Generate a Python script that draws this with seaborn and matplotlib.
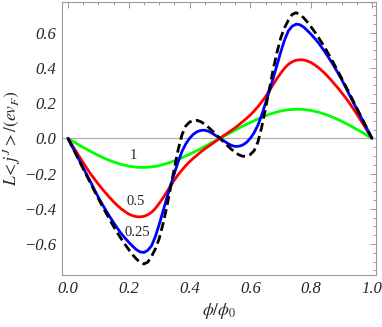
import numpy as np
import pandas as pd
import matplotlib
matplotlib.use("Agg")
import matplotlib.pyplot as plt
import seaborn as sns
from matplotlib.ticker import MultipleLocator, FuncFormatter

# -------------------------
# Data (phi/phi_0 in steps of 0.0125)
# -------------------------
phi = [round(0.0125 * i, 4) for i in range(81)]

curve_1 = [0, -0.013, -0.026, -0.039, -0.051, -0.063, -0.075, -0.086, -0.097, -0.107,
           -0.117, -0.126, -0.134, -0.141, -0.148, -0.153, -0.158, -0.161, -0.164, -0.165,
           -0.165, -0.164, -0.162, -0.159, -0.155, -0.149, -0.143, -0.136, -0.128, -0.119,
           -0.11, -0.1, -0.09, -0.08, -0.069, -0.058, -0.046, -0.035, -0.023, -0.012,
           0,
           0.012, 0.023, 0.035, 0.046, 0.058, 0.069, 0.08, 0.09, 0.1, 0.11,
           0.119, 0.128, 0.136, 0.143, 0.149, 0.155, 0.159, 0.162, 0.164, 0.165,
           0.165, 0.164, 0.161, 0.158, 0.153, 0.148, 0.141, 0.134, 0.126, 0.117,
           0.107, 0.097, 0.086, 0.075, 0.063, 0.051, 0.039, 0.026, 0.013, 0]

curve_05 = [0, -0.035, -0.07, -0.104, -0.138, -0.171, -0.203, -0.232, -0.26, -0.287,
            -0.312, -0.337, -0.36, -0.381, -0.4, -0.416, -0.43, -0.439, -0.445, -0.446,
            -0.443, -0.434, -0.42, -0.398, -0.37, -0.339, -0.305, -0.27, -0.237, -0.207,
            -0.18, -0.155, -0.133, -0.113, -0.095, -0.077, -0.06, -0.045, -0.03, -0.015,
            0,
            0.015, 0.03, 0.045, 0.06, 0.077, 0.095, 0.113, 0.133, 0.155, 0.18,
            0.207, 0.237, 0.27, 0.305, 0.339, 0.37, 0.398, 0.42, 0.434, 0.443,
            0.446, 0.445, 0.439, 0.43, 0.416, 0.4, 0.381, 0.36, 0.337, 0.312,
            0.287, 0.26, 0.232, 0.203, 0.171, 0.138, 0.104, 0.07, 0.035, 0]

curve_025 = [0, -0.042, -0.083, -0.125, -0.167, -0.208, -0.25, -0.293, -0.335, -0.373,
             -0.41, -0.445, -0.478, -0.51, -0.54, -0.566, -0.59, -0.612, -0.632, -0.645,
             -0.648, -0.636, -0.61, -0.558, -0.49, -0.415, -0.34, -0.268, -0.2, -0.133,
             -0.075, -0.032, 0.0, 0.023, 0.038, 0.045, 0.046, 0.04, 0.028, 0.014,
             0,
             -0.014, -0.028, -0.04, -0.046, -0.045, -0.038, -0.023, 0.0, 0.032, 0.075,
             0.133, 0.2, 0.268, 0.34, 0.415, 0.49, 0.558, 0.61, 0.636, 0.648,
             0.645, 0.632, 0.612, 0.59, 0.566, 0.54, 0.51, 0.478, 0.445, 0.41,
             0.373, 0.335, 0.293, 0.25, 0.208, 0.167, 0.125, 0.083, 0.042, 0]

curve_0 = [0, -0.043, -0.086, -0.129, -0.172, -0.215, -0.258, -0.3, -0.342, -0.383,
           -0.423, -0.462, -0.5, -0.536, -0.57, -0.602, -0.632, -0.66, -0.685, -0.704,
           -0.713, -0.703, -0.67, -0.628, -0.57, -0.487, -0.39, -0.28, -0.17, -0.065,
           0.02, 0.07, 0.092, 0.101, 0.102, 0.094, 0.08, 0.062, 0.042, 0.021,
           0,
           -0.021, -0.042, -0.062, -0.08, -0.094, -0.102, -0.101, -0.092, -0.07, -0.02,
           0.065, 0.17, 0.28, 0.39, 0.487, 0.57, 0.628, 0.67, 0.703, 0.713,
           0.704, 0.685, 0.66, 0.632, 0.602, 0.57, 0.536, 0.5, 0.462, 0.423,
           0.383, 0.342, 0.3, 0.258, 0.215, 0.172, 0.129, 0.086, 0.043, 0]

labels = ["1", "0.5", "0.25"]
label_pos = [(0.214, -0.096), (0.222, -0.357), (0.227, -0.537)]


def minus_fmt(v, pos):
    s = f"{v:.1f}"
    if s == "-0.0":
        s = "0.0"
    return s.replace("-", "\u2212")


# -------------------------
# Plot
# -------------------------
sns.set_style("white")
plt.rcParams["mathtext.fontset"] = "stix"
plt.rcParams["font.family"] = ["Liberation Serif", "DejaVu Serif"]

fig = plt.figure(figsize=(3.82, 3.27), dpi=100)
ax = fig.add_axes([0.162, 0.159, 0.822, 0.836])

ax.axhline(0, color="#b0b0b0", lw=0.9, zorder=1)

sns.lineplot(x=phi, y=curve_1, color="#00ff00", lw=2.0, ax=ax)
sns.lineplot(x=phi, y=curve_05, color="#ff0000", lw=2.0, ax=ax)
sns.lineplot(x=phi, y=curve_025, color="#0000ff", lw=2.0, ax=ax)
sns.lineplot(x=phi, y=curve_0, color="black", lw=2.0, ax=ax)
ax.lines[-1].set_dashes([3.2, 1.6])

for txt, (x, y) in zip(labels, label_pos):
    ax.text(x, y, txt, fontsize=10.5, ha="center", va="center",
            family="Liberation Serif")

ax.set_xlim(-0.02, 1.013)
ax.set_ylim(-0.776, 0.776)

ax.xaxis.set_major_locator(MultipleLocator(0.2))
ax.xaxis.set_minor_locator(MultipleLocator(0.05))
ax.yaxis.set_major_locator(MultipleLocator(0.2))
ax.yaxis.set_minor_locator(MultipleLocator(0.05))
ax.xaxis.set_major_formatter(FuncFormatter(minus_fmt))
ax.yaxis.set_major_formatter(FuncFormatter(minus_fmt))

ax.tick_params(which="both", direction="in", top=True, right=True,
               color="#888888", width=0.6)
ax.tick_params(which="major", length=4)
ax.tick_params(which="minor", length=2.2)
ax.tick_params(labelsize=12, pad=4)
for lab in ax.get_xticklabels() + ax.get_yticklabels():
    lab.set_fontstyle("italic")

for s in ax.spines.values():
    s.set_color("#999999")
    s.set_linewidth(0.8)

ax.set_xlabel(r"$\phi/\phi_0$", fontsize=12.5, labelpad=3)
ax.set_ylabel(r"$L\!<j^J>/(ev_F)$", fontsize=12.5, labelpad=1)

fig.savefig("out.png", dpi=100)
